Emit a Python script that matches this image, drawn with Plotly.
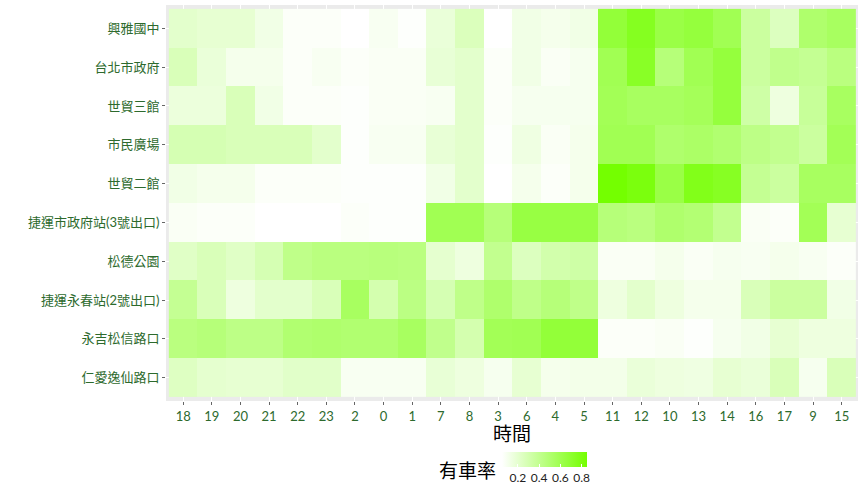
import plotly.graph_objects as go

# --- datos ---
estaciones = ['興雅國中', '台北市政府', '世貿三館', '市民廣場', '世貿二館',
              '捷運市政府站(3號出口)', '松德公園', '捷運永春站(2號出口)',
              '永吉松信路口', '仁愛逸仙路口']

horas = ['18', '19', '20', '21', '22', '23', '2', '0', '1', '7', '8', '3',
         '6', '4', '5', '11', '12', '10', '13', '14', '16', '17', '9', '15']

# 有車率 por estación (una lista por fila, en el orden de "horas")
r_xingya = [0.21, 0.19, 0.19, 0.13, 0.07, 0.07, 0.05, 0.09, 0.06, 0.17, 0.26, 0.05,
            0.13, 0.11, 0.13, 0.67, 0.75, 0.63, 0.66, 0.59, 0.35, 0.25, 0.51, 0.55]
r_shizhengfu = [0.27, 0.17, 0.11, 0.11, 0.07, 0.09, 0.07, 0.08, 0.08, 0.18, 0.21, 0.07,
                0.13, 0.08, 0.10, 0.59, 0.73, 0.47, 0.59, 0.66, 0.35, 0.41, 0.39, 0.45]
r_shimao3 = [0.16, 0.16, 0.27, 0.13, 0.07, 0.07, 0.06, 0.08, 0.08, 0.09, 0.21, 0.07,
             0.10, 0.10, 0.10, 0.58, 0.55, 0.55, 0.57, 0.66, 0.33, 0.15, 0.37, 0.55]
r_shimin = [0.29, 0.29, 0.27, 0.27, 0.27, 0.21, 0.06, 0.09, 0.09, 0.18, 0.21, 0.06,
            0.14, 0.08, 0.11, 0.59, 0.59, 0.51, 0.53, 0.50, 0.43, 0.40, 0.35, 0.58]
r_shimao2 = [0.13, 0.11, 0.11, 0.07, 0.07, 0.07, 0.06, 0.06, 0.06, 0.13, 0.21, 0.05,
             0.11, 0.07, 0.11, 0.85, 0.81, 0.63, 0.77, 0.74, 0.39, 0.35, 0.55, 0.55]
r_mrt_szf = [0.08, 0.07, 0.07, 0.05, 0.05, 0.05, 0.07, 0.06, 0.06, 0.59, 0.59, 0.47,
             0.64, 0.64, 0.64, 0.47, 0.45, 0.51, 0.49, 0.40, 0.08, 0.07, 0.58, 0.19]
r_songde = [0.23, 0.27, 0.23, 0.29, 0.42, 0.45, 0.45, 0.46, 0.45, 0.20, 0.15, 0.40,
            0.25, 0.31, 0.33, 0.08, 0.08, 0.11, 0.08, 0.10, 0.09, 0.11, 0.09, 0.07]
r_yongchun = [0.39, 0.27, 0.15, 0.21, 0.21, 0.27, 0.55, 0.30, 0.44, 0.29, 0.42, 0.51,
              0.42, 0.47, 0.42, 0.15, 0.21, 0.15, 0.11, 0.11, 0.27, 0.35, 0.35, 0.13]
r_yongji = [0.45, 0.47, 0.43, 0.43, 0.50, 0.51, 0.50, 0.50, 0.55, 0.41, 0.30, 0.58,
            0.59, 0.67, 0.67, 0.07, 0.07, 0.08, 0.06, 0.10, 0.13, 0.19, 0.15, 0.15]
r_renai = [0.24, 0.20, 0.19, 0.19, 0.22, 0.22, 0.09, 0.09, 0.09, 0.18, 0.15, 0.10,
           0.19, 0.11, 0.12, 0.12, 0.17, 0.15, 0.14, 0.19, 0.17, 0.27, 0.10, 0.27]

filas = [r_xingya, r_shizhengfu, r_shimao3, r_shimin, r_shimao2,
         r_mrt_szf, r_songde, r_yongchun, r_yongji, r_renai]

ticks_barra = [0.2, 0.4, 0.6, 0.8]

FUENTE = 'Lato, Noto Sans CJK TC, sans-serif'
VERDE_TEXTO = '#2d6a2d'

fig = go.Figure(go.Heatmap(
    z=filas,
    x=horas,
    y=estaciones,
    zmin=0.05,
    zmax=0.85,
    colorscale=[[0, '#ffffff'], [1, '#74ff00']],
    colorbar=dict(
        orientation='h',
        x=(502 - 166) / 692, xanchor='left',
        y=(401 - 452) / 396, yanchor='top',
        lenmode='pixels', len=85,
        thickness=15,
        xpad=0, ypad=0,
        outlinewidth=0,
        tickvals=ticks_barra,
        ticktext=[str(t) for t in ticks_barra],
        tickangle=0,
        ticks='inside', ticklen=3, tickcolor='white',
        tickfont=dict(family=FUENTE, size=12, color='#222222'),
    ),
    hovertemplate='%{y}<br>時間 %{x}<br>有車率 %{z}<extra></extra>',
))

fig.update_layout(
    width=864, height=504,
    margin=dict(l=166, r=6, t=5, b=103, autoexpand=False),
    paper_bgcolor='white',
    plot_bgcolor='#ebebeb',
    font=dict(family=FUENTE),
    annotations=[
        # titulo del eje x
        dict(text='時間', x=0.5, y=(401 - 434) / 396, xref='paper', yref='paper',
             xanchor='center', yanchor='middle', showarrow=False,
             font=dict(family=FUENTE, size=19, color='black')),
        # titulo de la leyenda
        dict(text='有車率', x=(467 - 166) / 692, y=(401 - 470) / 396,
             xref='paper', yref='paper', xanchor='center', yanchor='middle',
             showarrow=False, font=dict(family=FUENTE, size=19, color='black')),
    ],
)

fig.update_xaxes(
    type='category', range=[-0.6, 23.57], automargin=False,
    showgrid=True, gridcolor='white', gridwidth=1,
    ticks='outside', ticklen=3, tickcolor='#666666', tickangle=0,
    tickfont=dict(family=FUENTE, size=13, color=VERDE_TEXTO),
    zeroline=False,
)
fig.update_yaxes(
    type='category', categoryorder='array', categoryarray=estaciones,
    range=[9.6, -0.6], automargin=False,
    showgrid=True, gridcolor='white', gridwidth=1,
    ticks='outside', ticklen=3, tickcolor='#666666',
    tickfont=dict(family=FUENTE, size=13, color=VERDE_TEXTO),
    zeroline=False,
)

# sin margen del body para que el grafico quede pegado a la esquina
fig.write_html('out.html', config={'displayModeBar': False},
               post_script="document.body.style.margin='0px';")
